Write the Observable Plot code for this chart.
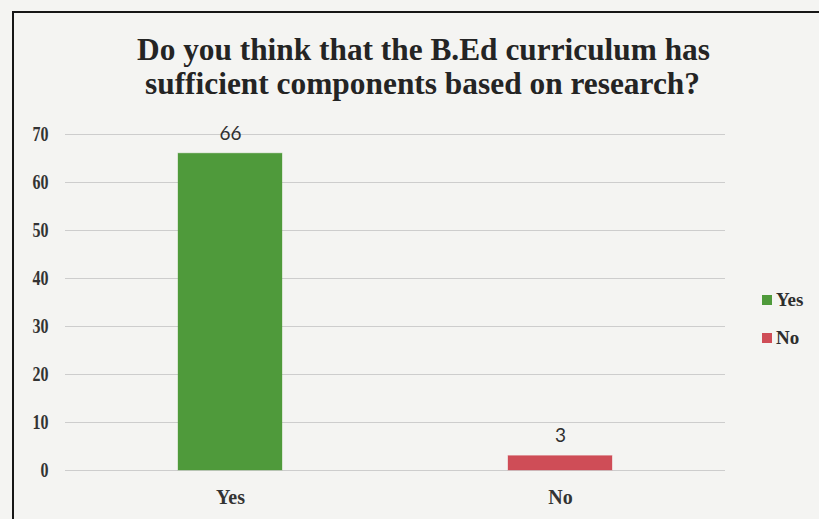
<!DOCTYPE html>
<html>
<head>
<meta charset="utf-8">
<script src="https://cdn.jsdelivr.net/npm/d3@7"></script>
<script src="https://cdn.jsdelivr.net/npm/@observablehq/plot@0.6"></script>
<style>
  html, body { margin: 0; padding: 0; }
  body {
    width: 819px; height: 519px; overflow: hidden; position: relative;
    background: #f4f4f2; font-family: "Liberation Serif", "Times New Roman", serif;
  }
  #frame {
    position: absolute; left: 12px; top: 11px; width: 900px; height: 600px;
    border-left: 2px solid #161616; border-top: 2px solid #161616;
  }
  #page { position: absolute; left: 0; top: 0; }
  #page svg { display: block; }
  #legend { position: absolute; left: 762px; top: 0; }
  .item {
    position: absolute; left: 0; white-space: nowrap;
    font: bold 19px "Liberation Serif", serif; color: #2e2e2e; line-height: 19px;
  }
  .sw { position: absolute; left: 0; top: 5px; width: 10px; height: 10px; }
  .lbl { position: absolute; left: 14px; top: 0; }
</style>
</head>
<body>
<div id="frame"></div>
<div id="page"></div>
<div id="legend"></div>
<script>
// Survey question and answers
const titleLines = [
  "Do you think that the B.Ed curriculum has",
  "sufficient components based on research?"
];
const categories = ["Yes", "No"];
const counts = [66, 3];
const colors = ["#4f9a3b", "#cf4d57"];
const yTicks = [0, 10, 20, 30, 40, 50, 60, 70];

const data = categories.map((c, i) => ({answer: c, count: counts[i]}));
const page = document.getElementById("page");
const serif = "'Liberation Serif', 'Times New Roman', serif";

// Two-line bold title, drawn narrow like the printed figure
const titleSvg = d3.create("svg").attr("width", 819).attr("height", 110);
const titleWidths = [573, 555];
const titleCenters = [423.5, 422.5];
const titleBaselines = [60, 94];
titleLines.forEach((t, i) => {
  titleSvg.append("text")
    .attr("x", titleCenters[i]).attr("y", titleBaselines[i])
    .attr("text-anchor", "middle")
    .style("font-family", serif)
    .style("font-weight", "bold")
    .style("font-size", "31px")
    .attr("fill", "#242424")
    .attr("textLength", titleWidths[i])
    .attr("lengthAdjust", "spacingAndGlyphs")
    .text(t);
});
page.appendChild(titleSvg.node());

const chart = Plot.plot({
  width: 819,
  height: 409,
  marginTop: 24,
  marginBottom: 49,
  marginLeft: 65,
  marginRight: 94,
  style: {background: "transparent", fontFamily: serif, color: "#333"},
  x: {domain: categories, padding: 0, label: null},
  y: {domain: [0, 70], label: null},
  color: {domain: categories, range: colors},
  marks: [
    Plot.gridY(yTicks, {stroke: "#cdcdcd", strokeOpacity: 1, strokeWidth: 1}),
    Plot.barY(data, {
      x: "answer", y: "count", fill: "answer",
      stroke: "answer", strokeOpacity: 0.35,
      insetLeft: 113, insetRight: 113
    }),
    Plot.text(data, {
      x: "answer", y: "count", text: d => String(d.count),
      dy: -20, fontSize: 19, fill: "#2f2f2f",
      fontFamily: "Lato, 'Open Sans', sans-serif"
    }),
    Plot.axisY(yTicks, {
      tickSize: 0, tickPadding: 17, label: null,
      fontSize: 20, fontWeight: "bold", fill: "#333"
    }),
    Plot.axisX({
      tickSize: 0, tickPadding: 19, label: null,
      fontSize: 20, fontWeight: "bold", fill: "#333"
    })
  ]
});
page.appendChild(chart);

// the printed y-axis numbers are narrower than the regular face
d3.select(chart).selectAll('g[aria-label="y-axis tick label"] text')
  .each(function() {
    const w = this.getComputedTextLength();
    d3.select(this).attr("textLength", w * 0.8).attr("lengthAdjust", "spacingAndGlyphs");
  });

// Legend on the right
const legend = document.getElementById("legend");
const legendTops = [290, 328];
categories.forEach((c, i) => {
  const item = document.createElement("div");
  item.className = "item";
  item.style.top = legendTops[i] + "px";
  const sw = document.createElement("span");
  sw.className = "sw";
  sw.style.background = colors[i];
  const lbl = document.createElement("span");
  lbl.className = "lbl";
  lbl.textContent = c;
  item.appendChild(sw);
  item.appendChild(lbl);
  legend.appendChild(item);
});
</script>
</body>
</html>
